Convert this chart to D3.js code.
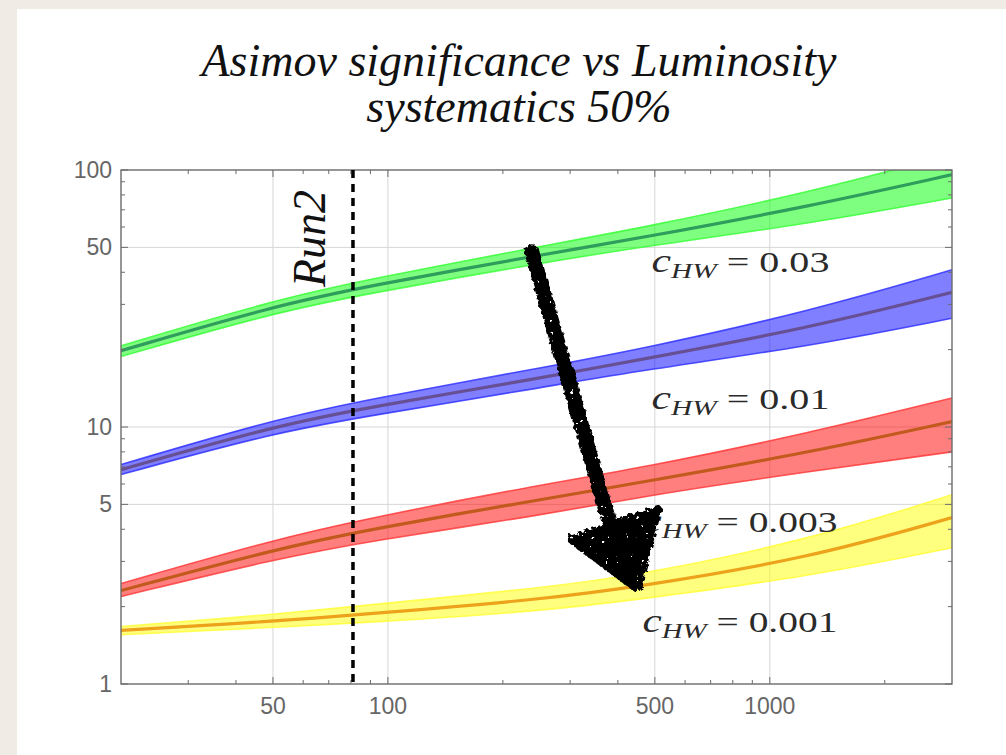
<!DOCTYPE html>
<html>
<head>
<meta charset="utf-8">
<script src="https://cdn.jsdelivr.net/npm/d3@7"></script>
<style>
  body { margin: 0; background: #f0ece5; }
</style>
</head>
<body>
<div id="chart"></div>
<script>
// luminosity points (fb^-1) where the curves were read
var lumi = [20, 50, 90, 250, 460, 1270, 3000];

// c_HW = 0.03
var greenMid = [19.8, 29.5, 35.5, 46.7, 54.4, 72.2, 95.9];
var greenHi  = [20.7, 31.1, 37.7, 50.4, 59.5, 81.8, 115];
var greenLo  = [18.8, 27.8, 33.2, 43.4, 50.2, 61.8, 77.8];
// c_HW = 0.01
var blueMid = [6.82, 10.05, 11.97, 15.5, 18.3, 24.3, 33.4];
var blueHi  = [7.14, 10.67, 12.85, 16.97, 20.1, 28.2, 40.9];
var blueLo  = [6.53, 9.48, 11.07, 14.2, 16.6, 20.6, 26.5];
// c_HW = 0.003
var redMid = [2.31, 3.33, 4.01, 5.21, 6.09, 7.96, 10.5];
var redHi  = [2.46, 3.64, 4.43, 5.96, 6.92, 9.48, 12.97];
var redLo  = [2.19, 3.05, 3.61, 4.52, 5.37, 6.72, 8.0];
// c_HW = 0.001
var yellowMid = [1.617, 1.752, 1.877, 2.13, 2.40, 3.09, 4.44];
var yellowHi  = [1.675, 1.861, 2.035, 2.36, 2.66, 3.64, 5.45];
var yellowLo  = [1.555, 1.661, 1.736, 1.917, 2.14, 2.62, 3.39];

var xMajor = [50, 100, 500, 1000];
var xMinor = [30, 40, 60, 70, 80, 90, 200, 300, 400, 600, 700, 800, 900, 2000];
var yMajor = [1, 5, 10, 50, 100];
var yMinor = [2, 3, 4, 6, 7, 8, 9, 20, 30, 40, 60, 70, 80, 90];

var run2 = 81;

var w = 1006,
  h = 755;

var svg = d3.select("#chart")
          .append("svg")
          .attr("width", w)
          .attr("height", h);

// paper edge + white slide
svg.append("rect").attr("width", w).attr("height", h).attr("fill", "#f0ece5");
svg.append("rect").attr("x", 17).attr("y", 9)
   .attr("width", w - 17).attr("height", h - 9).attr("fill", "#ffffff");

var x = d3.scaleLog().domain([20, 3000]).range([121, 952]);
var y = d3.scaleLog().domain([1, 100]).range([684, 170]);

svg.append("clipPath").attr("id", "plotclip")
   .append("rect")
   .attr("x", x.range()[0]).attr("y", y.range()[1])
   .attr("width", x.range()[1] - x.range()[0])
   .attr("height", y.range()[0] - y.range()[1]);

// title, two lines
var titleLines = ["Asimov significance vs Luminosity", "systematics 50%"];
svg.append("g").selectAll("text").data(titleLines).enter().append("text")
  .attr("x", 519)
  .attr("y", (d, i) => 76 + i * 46)
  .attr("text-anchor", "middle")
  .attr("font-family", "Liberation Serif, serif")
  .attr("font-style", "italic")
  .attr("font-size", 46)
  .attr("fill", "#111")
  .text(d => d);

// grid
var grid = svg.append("g").attr("stroke", "#d6d6d6").attr("stroke-width", 1);
grid.selectAll(".gx").data(xMajor).enter().append("line")
  .attr("x1", d => x(d)).attr("x2", d => x(d))
  .attr("y1", y.range()[0]).attr("y2", y.range()[1]);
grid.selectAll(".gy").data([5, 10, 50]).enter().append("line")
  .attr("y1", d => y(d)).attr("y2", d => y(d))
  .attr("x1", x.range()[0]).attr("x2", x.range()[1]);

var series = [
  { mid: greenMid, hi: greenHi, lo: greenLo, col: "#00ff00", edge: "#33ff33", line: "#2f9d5c" },
  { mid: blueMid, hi: blueHi, lo: blueLo, col: "#0000ff", edge: "#2b2bff", line: "#664f92" },
  { mid: redMid, hi: redHi, lo: redLo, col: "#ff0000", edge: "#ff3333", line: "#c15a1c" },
  { mid: yellowMid, hi: yellowHi, lo: yellowLo, col: "#ffff00", edge: "#ffff33", line: "#eda21c" }
];

var area = d3.area()
  .x(d => x(d.l)).y0(d => y(d.lo)).y1(d => y(d.hi))
  .curve(d3.curveBasis);
var line = d3.line()
  .x(d => x(d.l)).y(d => y(d.v))
  .curve(d3.curveBasis);

var plot = svg.append("g").attr("clip-path", "url(#plotclip)");

series.forEach(function(s) {
  var rows = lumi.map((l, i) => ({ l: l, lo: s.lo[i], hi: s.hi[i], v: s.mid[i] }));
  plot.append("path").datum(rows).attr("d", area)
    .attr("fill", s.col).attr("fill-opacity", 0.5);
  ["lo", "hi"].forEach(function(k) {
    plot.append("path").datum(rows.map(r => ({ l: r.l, v: r[k] })))
      .attr("d", line).attr("fill", "none")
      .attr("stroke", s.edge).attr("stroke-opacity", 0.8).attr("stroke-width", 1.6);
  });
  plot.append("path").datum(rows).attr("d", line).attr("fill", "none")
    .attr("stroke", s.line).attr("stroke-width", 3.2);
});

// frame and ticks
var frame = svg.append("g").attr("stroke", "#6b6b6b").attr("fill", "none");
frame.append("rect")
  .attr("x", x.range()[0]).attr("y", y.range()[1])
  .attr("width", x.range()[1] - x.range()[0])
  .attr("height", y.range()[0] - y.range()[1])
  .attr("stroke-width", 1.4);

function xTicks(vals, len) {
  vals.forEach(function(v) {
    frame.append("line").attr("x1", x(v)).attr("x2", x(v))
      .attr("y1", y.range()[0]).attr("y2", y.range()[0] - len);
    frame.append("line").attr("x1", x(v)).attr("x2", x(v))
      .attr("y1", y.range()[1]).attr("y2", y.range()[1] + len);
  });
}
function yTicks(vals, len) {
  vals.forEach(function(v) {
    frame.append("line").attr("y1", y(v)).attr("y2", y(v))
      .attr("x1", x.range()[0]).attr("x2", x.range()[0] + len);
    frame.append("line").attr("y1", y(v)).attr("y2", y(v))
      .attr("x1", x.range()[1]).attr("x2", x.range()[1] - len);
  });
}
xTicks(xMajor, 7); xTicks(xMinor, 4);
yTicks(yMajor, 7); yTicks(yMinor, 4);

var tickFont = "Liberation Sans, Arial, sans-serif";
svg.append("g").selectAll("text").data(xMajor).enter().append("text")
  .attr("x", d => x(d)).attr("y", 714)
  .attr("text-anchor", "middle")
  .attr("font-family", tickFont).attr("font-size", 23).attr("fill", "#666")
  .text(d => d);
svg.append("g").selectAll("text").data(yMajor).enter().append("text")
  .attr("x", x.range()[0] - 9).attr("y", d => y(d) + 8)
  .attr("text-anchor", "end")
  .attr("font-family", tickFont).attr("font-size", 23).attr("fill", "#666")
  .text(d => d);

// Run2 marker
svg.append("line")
  .attr("x1", x(run2)).attr("x2", x(run2))
  .attr("y1", y.range()[1]).attr("y2", y.range()[0])
  .attr("stroke", "#000").attr("stroke-width", 3.5)
  .attr("stroke-dasharray", "8,6");
svg.append("text")
  .attr("transform", "translate(" + (x(run2) - 28) + "," + 287 + ") rotate(-90)")
  .attr("font-family", "Liberation Serif, serif")
  .attr("font-style", "italic")
  .attr("font-size", 46)
  .attr("fill", "#111")
  .text("Run2");

// c_HW labels
var labelVals = ["0.03", "0.01", "0.003", "0.001"];
var labelAt = [[490, 40.2], [490, 11.7], [464, 3.91], [464, 1.59]];
var labelWidth = [178, 178, 195, 195];

labelVals.forEach(function(v, i) {
  var t = svg.append("text")
    .attr("font-family", "Liberation Serif, serif")
    .attr("font-size", 30)
    .attr("fill", "#2a2a2a");
  t.append("tspan").attr("font-style", "italic").attr("font-size", 33).text("c");
  t.append("tspan").attr("font-style", "italic").attr("font-size", 22).attr("dy", 6).text("HW");
  t.append("tspan").attr("dy", -6).text(" = " + v);
  var bb = t.node().getBBox();
  t.attr("transform", "translate(" + x(labelAt[i][0]) + "," + y(labelAt[i][1]) + ") scale(" + (labelWidth[i] / bb.width) + ",1)");
});

// hand-drawn arrow (marker look: jagged edge, a few white specks)
var defs = svg.append("defs");
var f = defs.append("filter").attr("id", "rough")
  .attr("x", "-20%").attr("y", "-20%").attr("width", "140%").attr("height", "140%");
f.append("feTurbulence").attr("type", "fractalNoise").attr("baseFrequency", 0.22)
  .attr("numOctaves", 3).attr("seed", 3).attr("result", "n");
f.append("feDisplacementMap").attr("in", "SourceGraphic").attr("in2", "n")
  .attr("scale", 7).attr("result", "d");
f.append("feTurbulence").attr("type", "fractalNoise").attr("baseFrequency", 0.2)
  .attr("numOctaves", 2).attr("seed", 9).attr("result", "n2");
f.append("feColorMatrix").attr("in", "n2").attr("type", "matrix")
  .attr("values", "0 0 0 0 0  0 0 0 0 0  0 0 0 0 0  0 0 0 30 -22.5").attr("result", "holes");
f.append("feComposite").attr("in", "d").attr("in2", "holes").attr("operator", "out");

var arrowShaft = [[238, 48.1], [385, 3.98]];
var arrowHead = [[304, 3.64], [508, 4.77], [448, 2.37]];
var ag = svg.append("g").attr("filter", "url(#rough)");
ag.append("line")
  .attr("x1", x(arrowShaft[0][0])).attr("y1", y(arrowShaft[0][1]))
  .attr("x2", x(arrowShaft[1][0])).attr("y2", y(arrowShaft[1][1]))
  .attr("stroke", "#000").attr("stroke-width", 15).attr("stroke-linecap", "round");
ag.append("path")
  .attr("d", "M" + arrowHead.map(p => x(p[0]) + "," + y(p[1])).join("L") + "Z")
  .attr("fill", "#000").attr("stroke", "#000").attr("stroke-width", 9).attr("stroke-linejoin", "round");
</script>
</body>
</html>
